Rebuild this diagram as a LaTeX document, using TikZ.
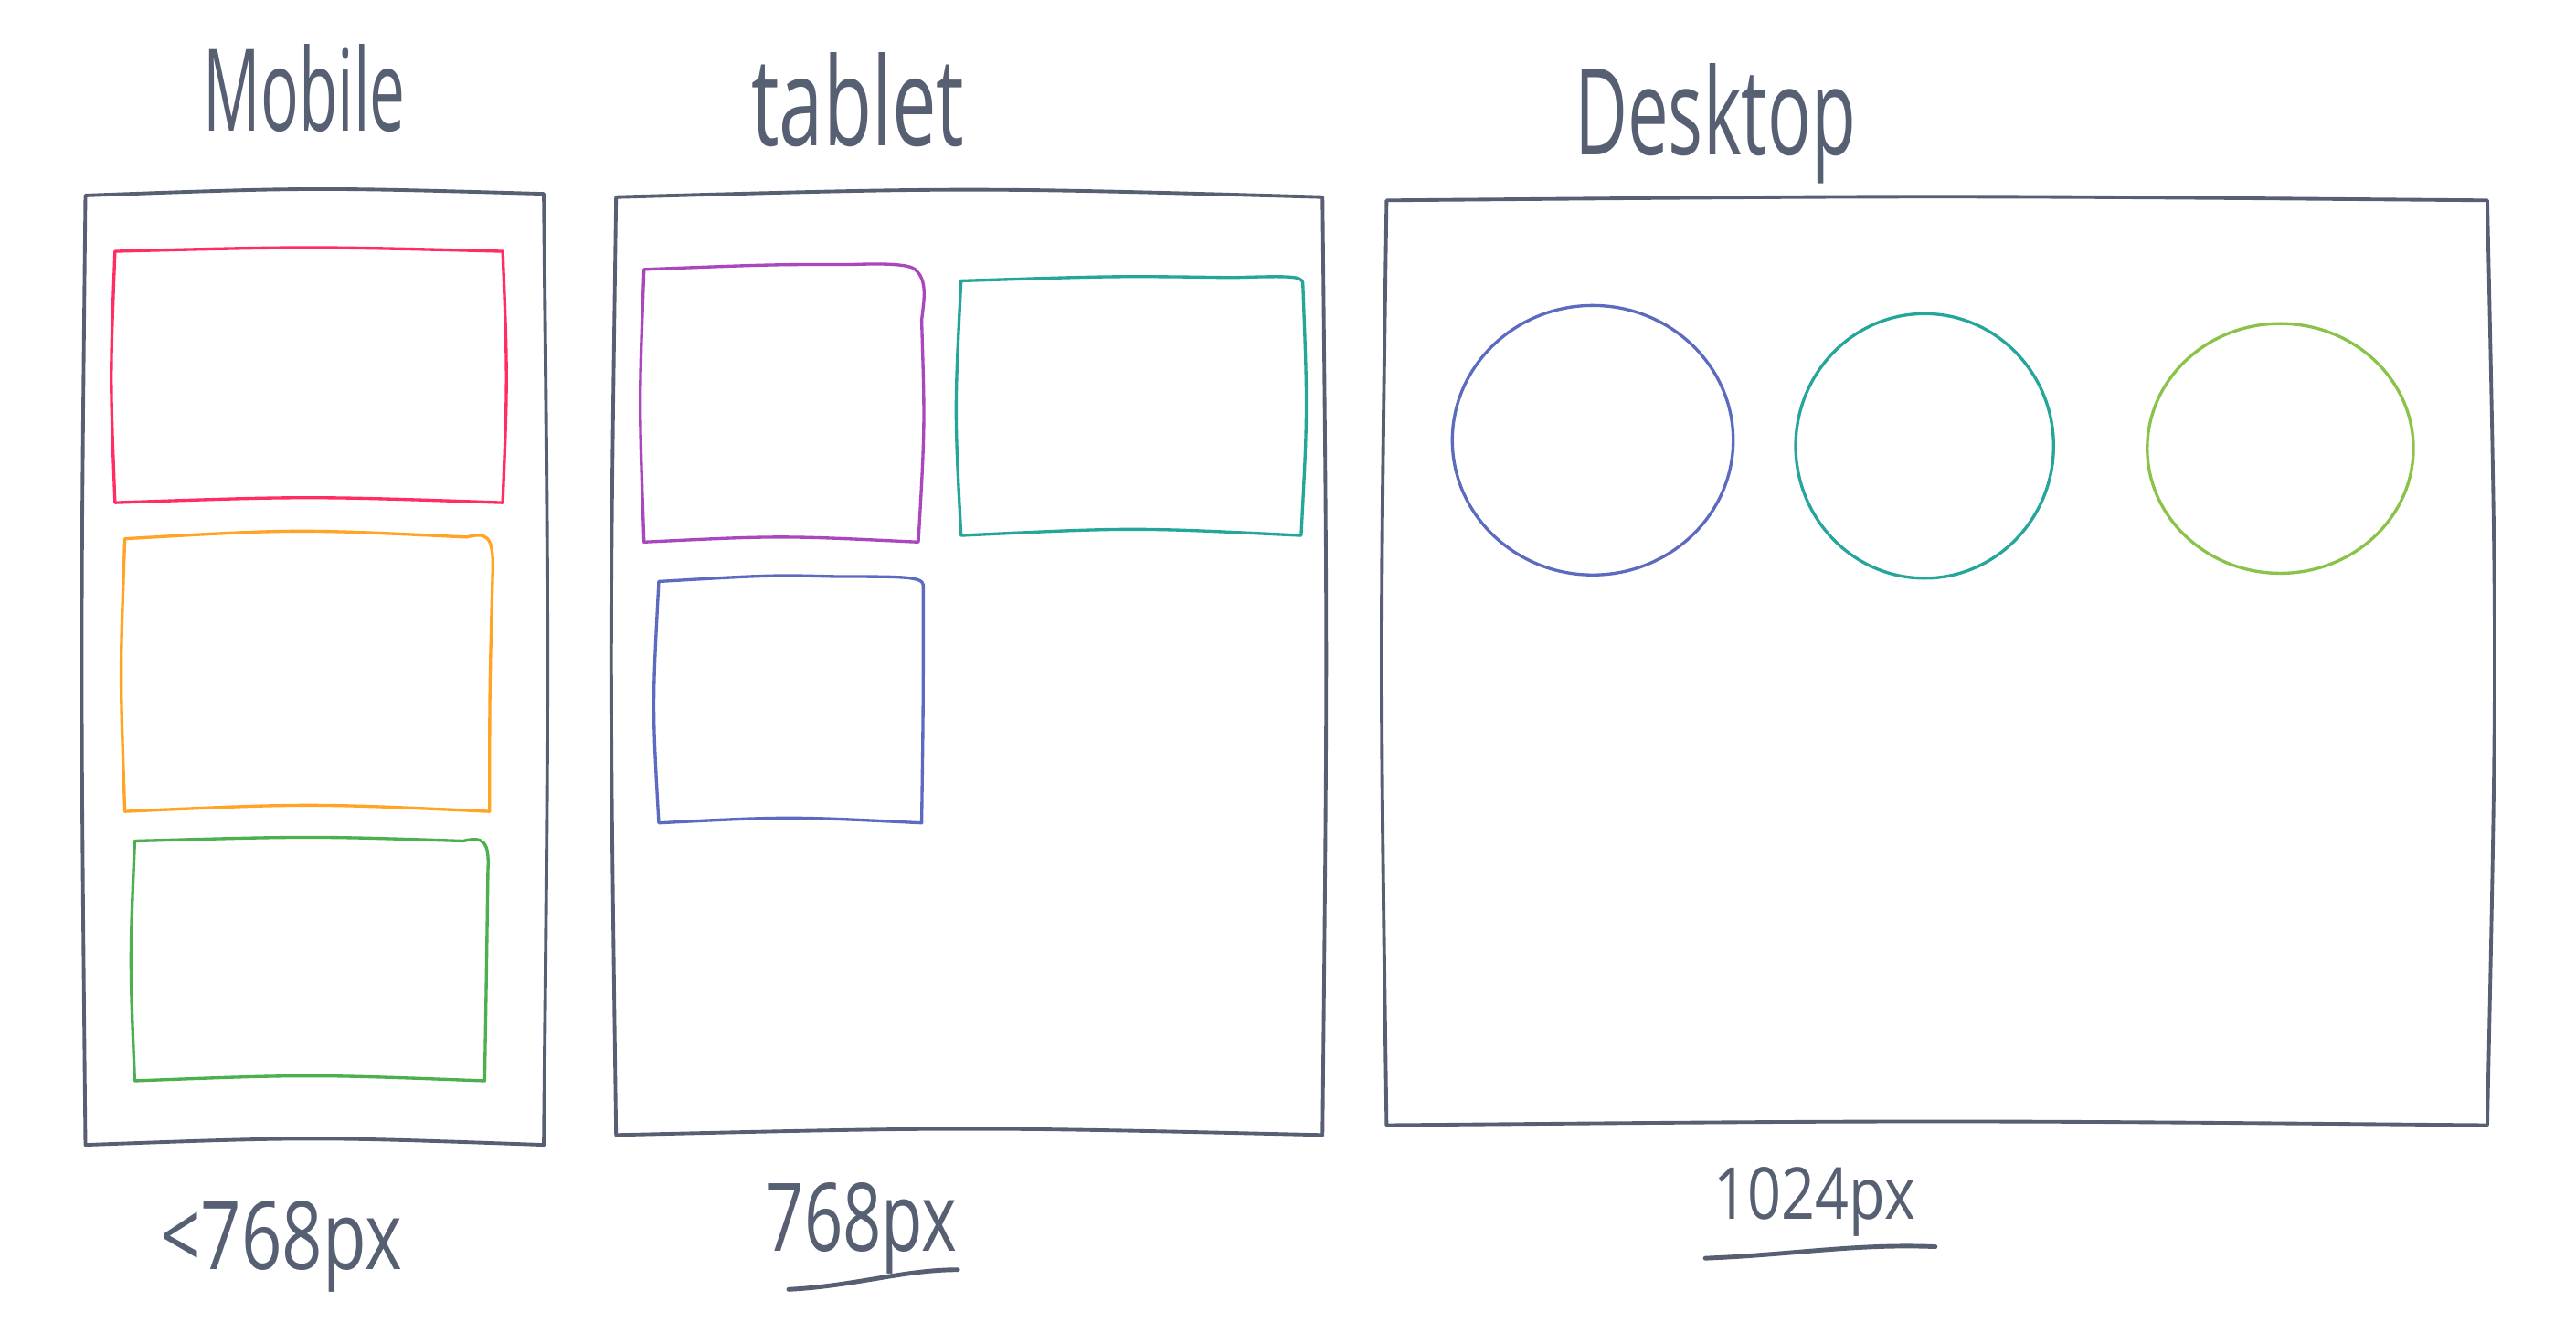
\documentclass[tikz,border=0pt]{standalone}
\usepackage{fontspec}
\setmainfont{Open Sans}
\usepackage{graphicx}
\definecolor{frame}{HTML}{575F73}
\definecolor{cred}{HTML}{FF2D62}
\definecolor{corange}{HTML}{FFA424}
\definecolor{cgreen}{HTML}{4CAF50}
\definecolor{cpurple}{HTML}{AB47BC}
\definecolor{cteal}{HTML}{26A69A}
\definecolor{cblue}{HTML}{5C6BC0}
\definecolor{clgreen}{HTML}{8BC34A}
\begin{document}
\begin{tikzpicture}[x=0.017978cm,y=-0.017978cm,line cap=round,line join=round,
  framebox/.style={draw=frame,line width=1.1pt},
  innerbox/.style={line width=0.95pt},
  hand/.style={text=frame,inner sep=0pt,anchor=base west},
  uline/.style={draw=frame,line width=1.4pt}]
\useasboundingbox (0,0) rectangle (1568,811.5);
% titles
\node[hand] (mobile) at (123.5,80) {\resizebox{2.21cm}{0.95cm}{Mobile}};
\node[hand] (tablet) at (457,89) {\resizebox{2.33cm}{1.02cm}{tablet}};
\node[hand] (desktop) at (958,94.5) {\resizebox{3.08cm}{1.0cm}{Desktop}};
% frames
\draw[framebox] (52,119) .. controls (190,114) .. (331,118) .. controls (334,400) .. (331,697) .. controls (190,692) .. (52,697) .. controls (49,400) .. cycle;
\draw[framebox] (375,120) .. controls (590,114) .. (805,120) .. controls (808,400) .. (805,691) .. controls (590,686) .. (375,691) .. controls (371,400) .. cycle;
\draw[framebox] (844,122) .. controls (1180,119) .. (1514,122) .. controls (1520,400) .. (1514,685) .. controls (1180,682) .. (844,685) .. controls (840,400) .. cycle;
% mobile boxes
\draw[innerbox,cred] (70,153) .. controls (188,150) .. (306,153) .. controls (309,230) .. (306,306) .. controls (188,302) .. (70,306) .. controls (67,230) .. cycle;
\draw[innerbox,corange] (76,328) .. controls (180,322) .. (284,327) .. controls (296,324) and (300,326) .. (300,345) .. controls (298,420) .. (298,494) .. controls (188,489) .. (76,494) .. controls (73,410) .. cycle;
\draw[innerbox,cgreen] (82,512) .. controls (190,509) .. (282,512) .. controls (294,509) and (298,512) .. (297,530) .. controls (296,600) .. (295,658) .. controls (188,654) .. (82,658) .. controls (79,585) .. cycle;
% tablet boxes
\draw[innerbox,cpurple] (392,164) .. controls (470,161) .. (520,161) .. controls (548,160) and (556,162) .. (558,165) .. controls (565,172) and (562,185) .. (561,195) .. controls (563,260) .. (559,330) .. controls (475,326) .. (392,330) .. controls (389,245) .. cycle;
\draw[innerbox,cteal] (585,171) .. controls (680,168) .. (750,169) .. controls (785,168) and (792,168) .. (793,172) .. controls (796,250) .. (792,326) .. controls (690,321) .. (585,326) .. controls (581,250) .. cycle;
\draw[innerbox,cblue] (401,354) .. controls (470,350) .. (510,351) .. controls (550,351) and (561,351) .. (562,356) .. controls (562,430) .. (561,501) .. controls (480,497) .. (401,501) .. controls (397,430) .. cycle;
% desktop circles
\draw[innerbox,cblue] (969.5,268) ellipse [x radius=85.5, y radius=82];
\draw[innerbox,cteal] (1171.5,271.5) ellipse [x radius=78.5, y radius=80.5];
\draw[innerbox,clgreen] (1388,273) ellipse [x radius=81, y radius=76];
% width labels
\node[hand] (lmobile) at (97,773) {\resizebox{2.65cm}{0.75cm}{<768px}};
\node[hand] (ltablet) at (465.5,762) {\resizebox{2.1cm}{0.75cm}{768px}};
\node[hand] (ldesktop) at (1043,742.5) {\resizebox{2.2cm}{0.57cm}{1024px}};
\draw[uline] (480,785) .. controls (520,783) and (550,773) .. (583,773);
\draw[uline] (1038,766) .. controls (1090,764) and (1130,757) .. (1178,759);
\end{tikzpicture}
\end{document}
